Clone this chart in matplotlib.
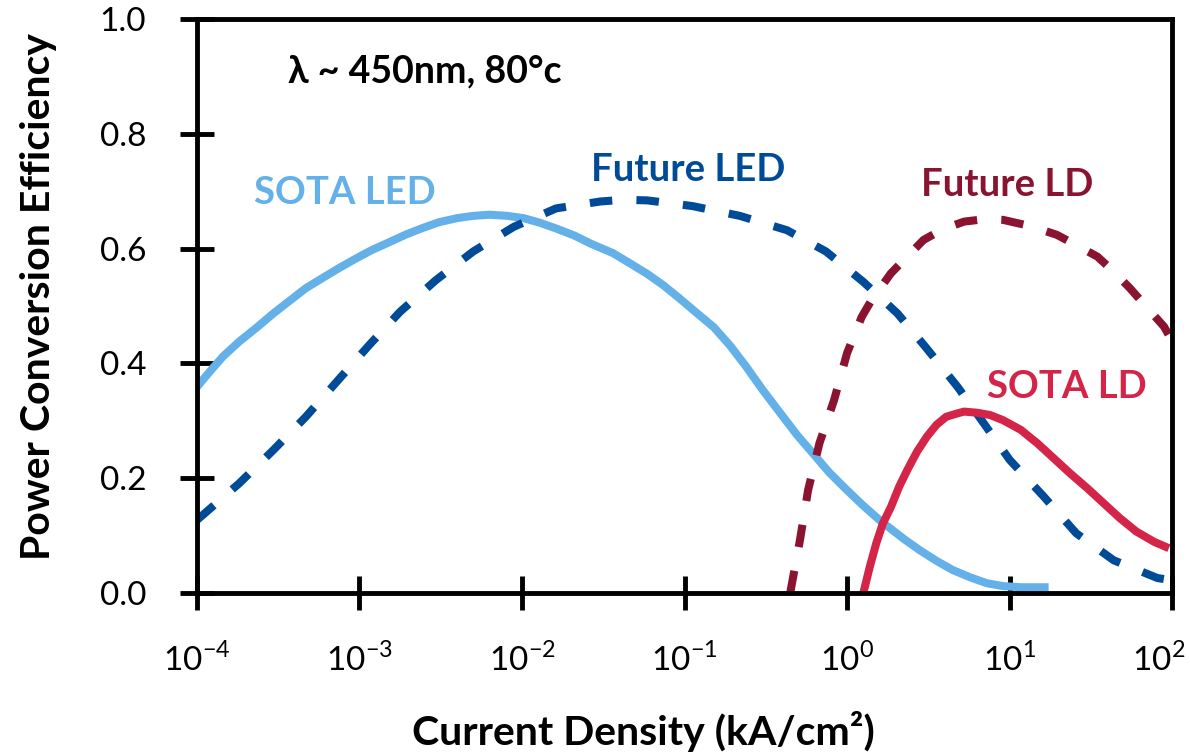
import numpy as np
import matplotlib
matplotlib.use('Agg')
import matplotlib.pyplot as plt
import matplotlib.transforms as mtransforms

plt.rcParams['font.family'] = ['Lato', 'DejaVu Sans']
plt.rcParams['mathtext.fontset'] = 'custom'
plt.rcParams['mathtext.rm'] = 'Lato'
plt.rcParams['mathtext.bf'] = 'Lato:bold'

# Current density (log10 of kA/cm^2) and power conversion efficiency
sota_led_logj = [-4.00, -3.92, -3.84, -3.74, -3.63, -3.53, -3.43, -3.33, -3.22, -3.12,
                 -3.02, -2.92, -2.81, -2.71, -2.61, -2.51, -2.40, -2.30, -2.20, -2.09,
                 -1.99, -1.89, -1.79, -1.68, -1.58, -1.44, -1.34, -1.23, -1.13, -1.03,
                 -0.93, -0.82, -0.72, -0.62, -0.52, -0.41, -0.31, -0.21, -0.11, 0.00,
                 0.10, 0.20, 0.35, 0.45, 0.55, 0.65, 0.76, 0.86, 0.96, 1.07, 1.24]
sota_led_pce = [0.359, 0.386, 0.412, 0.438, 0.463, 0.487, 0.509, 0.531, 0.550, 0.567,
                0.583, 0.598, 0.612, 0.625, 0.636, 0.646, 0.653, 0.657, 0.659, 0.657,
                0.653, 0.645, 0.635, 0.623, 0.609, 0.592, 0.575, 0.556, 0.536, 0.513,
                0.489, 0.463, 0.431, 0.394, 0.354, 0.313, 0.276, 0.243, 0.210, 0.179,
                0.152, 0.127, 0.094, 0.074, 0.056, 0.040, 0.027, 0.017, 0.012, 0.010, 0.010]

future_led_logj = [-4.0, -3.74, -3.53, -3.33, -3.14, -2.94, -2.75, -2.53, -2.30, -2.05,
                   -1.79, -1.52, -1.38, -1.23, -0.95, -0.66, -0.37, -0.13, 0.10, 0.31,
                   0.49, 0.68, 0.84, 1.00, 1.21, 1.41, 1.64, 1.91, 1.98]
future_led_pce = [0.127, 0.191, 0.249, 0.307, 0.368, 0.432, 0.490, 0.545, 0.595, 0.638,
                  0.670, 0.682, 0.685, 0.684, 0.674, 0.657, 0.632, 0.595, 0.542, 0.487,
                  0.426, 0.359, 0.296, 0.232, 0.168, 0.104, 0.057, 0.026, 0.023]

future_ld_logj = [-0.35, -0.29, -0.24, -0.17, -0.08, 0.00, 0.09, 0.15, 0.27, 0.47,
                  0.59, 0.72, 0.84, 0.96, 1.13, 1.29, 1.41, 1.54, 1.64, 1.74, 1.84,
                  1.95, 1.98]
future_ld_pce = [0.000, 0.092, 0.179, 0.261, 0.336, 0.418, 0.481, 0.510, 0.557, 0.615,
                 0.634, 0.647, 0.651, 0.650, 0.639, 0.624, 0.606, 0.586, 0.560, 0.531,
                 0.499, 0.464, 0.449]

sota_ld_logj = [0.10, 0.14, 0.18, 0.22, 0.27, 0.32, 0.37, 0.43, 0.49, 0.55, 0.61, 0.68,
                0.72, 0.80, 0.88, 0.96, 1.07, 1.13, 1.17, 1.27, 1.37, 1.48, 1.58, 1.68,
                1.78, 1.89, 1.98]
sota_ld_pce = [0.000, 0.046, 0.087, 0.121, 0.150, 0.185, 0.214, 0.246, 0.272, 0.293,
               0.307, 0.313, 0.316, 0.314, 0.310, 0.301, 0.284, 0.270, 0.261, 0.235,
               0.209, 0.182, 0.156, 0.130, 0.107, 0.089, 0.078]

xticks = [1e-4, 1e-3, 1e-2, 1e-1, 1e0, 1e1, 1e2]
xtick_labels = ['$10^{-4}$', '$10^{-3}$', '$10^{-2}$', '$10^{-1}$', '$10^{0}$',
                '$10^{1}$', '$10^{2}$']
yticks = [0.0, 0.2, 0.4, 0.6, 0.8, 1.0]
ytick_labels = ['0.0', '0.2', '0.4', '0.6', '0.8', '1.0']

c_sota_led = '#63B1E8'
c_future_led = '#004B98'
c_future_ld = '#8A1330'
c_sota_ld = '#D42549'

fig = plt.figure(figsize=(11.9, 7.53), dpi=100)
ax = fig.add_axes([0.1655, 0.2125, 0.8195, 0.7623])

lw = 5.8
ax.plot(10 ** np.array(sota_led_logj), sota_led_pce, color=c_sota_led, lw=lw,
        solid_capstyle='butt', solid_joinstyle='round')
ax.plot(10 ** np.array(future_led_logj), future_led_pce, color=c_future_led, lw=lw,
        dashes=(2.8, 3.0), dash_capstyle='butt')
ax.plot(10 ** np.array(future_ld_logj), future_ld_pce, color=c_future_ld, lw=lw,
        dashes=(2.8, 3.0), dash_capstyle='butt')
ax.plot(10 ** np.array(sota_ld_logj), sota_ld_pce, color=c_sota_ld, lw=lw,
        solid_capstyle='butt', solid_joinstyle='round')

ax.set_xscale('log')
ax.set_xlim(1e-4, 1e2)
ax.set_ylim(0, 1)
ax.set_xticks(xticks)
ax.set_xticklabels(xtick_labels)
ax.set_yticks(yticks)
ax.set_yticklabels(ytick_labels)
ax.minorticks_off()

for s in ax.spines.values():
    s.set_linewidth(3.5)
ax.tick_params(axis='both', direction='inout', length=25, width=3.5, labelsize=24)
ax.tick_params(axis='x', pad=23)
ax.tick_params(axis='y', pad=24)

ax.set_xlabel('Current Density (kA/cm²)', fontsize=29.5, fontweight='bold')
ax.set_ylabel('Power Conversion Efficiency', fontsize=29.5, fontweight='bold')
ax.xaxis.set_label_coords(0.458, -0.205)
ax.yaxis.set_label_coords(-0.144, 0.516)

fs = 27.5
ax.text(10 ** -3.09, 0.697, 'SOTA LED', color=c_sota_led, fontsize=fs,
        fontweight='bold', ha='center', va='center')
ax.text(10 ** -0.98, 0.737, 'Future LED', color=c_future_led, fontsize=fs,
        fontweight='bold', ha='center', va='center')
ax.text(10 ** 0.985, 0.711, 'Future LD', color=c_future_ld, fontsize=fs,
        fontweight='bold', ha='center', va='center')
ax.text(10 ** 1.35, 0.359, 'SOTA LD', color=c_sota_ld, fontsize=fs,
        fontweight='bold', ha='center', va='center')
ax.text(10 ** -2.6, 0.908, 'λ ~ 450nm, 80°c', color='black', fontsize=27,
        fontweight='bold', ha='center', va='center')

# pull the last x tick label in so it stays inside the figure
last = ax.xaxis.get_major_ticks()[-1].label1
last.set_transform(last.get_transform() +
                   mtransforms.ScaledTranslation(-10 / 72, 0, fig.dpi_scale_trans))

fig.savefig('out.png', dpi=100)
